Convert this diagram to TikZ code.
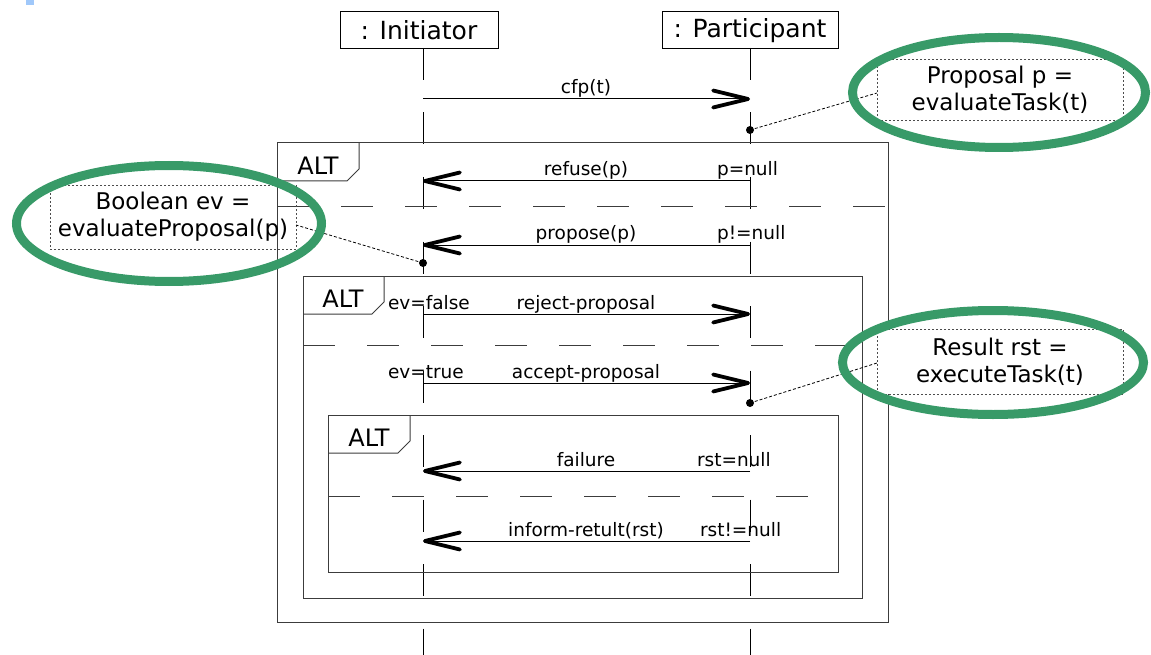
\documentclass[tikz,border=0pt]{standalone}
\usepackage{fontspec}
\setmainfont{DejaVu Sans}
\usetikzlibrary{arrows.meta,shapes.geometric}
\definecolor{hlgreen}{RGB}{56,154,104}
\definecolor{framecol}{RGB}{60,60,60}
\definecolor{speck}{RGB}{160,200,250}
\begin{document}
\begin{tikzpicture}[x=1pt,y=-1pt,
  every node/.style={inner sep=0pt,outer sep=0pt},
  head/.style={draw,line width=1pt,minimum height=37pt,font=\fontsize{25}{30}\selectfont},
  lifeline/.style={line width=1pt,dash pattern=on 32pt off 32.5pt},
  msg/.style={line width=1pt,-{Straight Barb[length=35pt,width=17pt,line width=3.8pt,round]}},
  lbl/.style={font=\fontsize{18.5}{21}\selectfont,anchor=base},
  cond/.style={font=\fontsize{18.5}{21}\selectfont,anchor=base west},
  frm/.style={draw=framecol,line width=1pt},
  sep/.style={draw=framecol,line width=1pt,dash pattern=on 32pt off 32pt},
  alttxt/.style={font=\fontsize{24}{28}\selectfont,anchor=base},
  note/.style={draw=black!70,dash pattern=on 2pt off 2pt,line width=0.8pt,
    font=\fontsize{23}{27}\selectfont,align=center,minimum width=246pt},
  hl/.style={draw=hlgreen,line width=9pt},
  dotline/.style={line width=0.8pt,dash pattern=on 3pt off 2pt},
  dot/.style={circle,fill,minimum size=8pt}
]
\useasboundingbox (0,0) rectangle (1151,655);
\fill[speck] (26,0) rectangle (34,5);

% headers
\node[head,minimum width=158pt] (ini) at (419,30.5) {: Initiator};
\node[head,minimum width=176pt] (par) at (750,30.5) {: Participant};

% lifelines
\coordinate (iniTop) at (423,48);
\coordinate (iniBot) at (423,655);
\coordinate (parTop) at (750,48);
\coordinate (parBot) at (750,655);
\draw[lifeline] (iniTop) -- (iniBot);
\draw[lifeline] (parTop) -- (parBot);

% frames
\draw[frm] (277,143) rectangle (888,622);
\draw[frm] (277,181) -- (347,181) -- (359,169) -- (359,143);
\node[alttxt] (alt1) at (318,175) {ALT};
\draw[sep] (277,207) -- (888,207);

\draw[frm] (303,276) rectangle (862,598);
\draw[frm] (303,314) -- (372,314) -- (384,302) -- (384,276);
\node[alttxt] (alt2) at (343,307) {ALT};
\draw[sep] (303,345) -- (862,345);

\draw[frm] (328,415) rectangle (838,572);
\draw[frm] (328,453) -- (398,453) -- (410,441) -- (410,415);
\node[alttxt] (alt3) at (369,446) {ALT};
\draw[sep] (328,496) -- (838,496);

% message anchor points
\foreach \n/\y in {cfp/99,ref/181,pro/245,rej/314,acc/383,fail/471,inf/541}{
  \coordinate (i-\n) at (423,\y);
  \coordinate (p-\n) at (750,\y);
}

% messages
\draw[msg] (i-cfp) -- (p-cfp);
\node[lbl] (l-cfp) at (586,94) {cfp(t)};

\draw[msg] (p-ref) -- (i-ref);
\node[lbl] (l-ref) at (586,176) {refuse(p)};
\node[cond] (c-ref) at (717,176) {p=null};

\draw[msg] (p-pro) -- (i-pro);
\node[lbl] (l-pro) at (586,240) {propose(p)};
\node[cond] (c-pro) at (717,240) {p!=null};

\draw[msg] (i-rej) -- (p-rej);
\node[lbl] (l-rej) at (586,309) {reject-proposal};
\node[cond] (c-rej) at (388,309) {ev=false};

\draw[msg] (i-acc) -- (p-acc);
\node[lbl] (l-acc) at (586,378) {accept-proposal};
\node[cond] (c-acc) at (388,378) {ev=true};

\draw[msg] (p-fail) -- (i-fail);
\node[lbl] (l-fail) at (586,466) {failure};
\node[cond] (c-fail) at (697,466) {rst=null};

\draw[msg] (p-inf) -- (i-inf);
\node[lbl] (l-inf) at (586,536) {inform-retult(rst)};
\node[cond] (c-inf) at (700,536) {rst!=null};

% notes
\node[dot] (d1) at (750,130) {};
\node[dot] (d2) at (423,263) {};
\node[dot] (d3) at (750,403) {};

\node[note,minimum height=61pt] (n1) at (1000,89.5) {Proposal p =\\evaluateTask(t)};
\node[note,minimum height=64pt] (n2) at (173,217) {Boolean ev =\\evaluateProposal(p)};
\node[note,fill=white,minimum height=65pt] (n3) at (1000,361.5) {Result rst =\\executeTask(t)};

\coordinate (n1a) at (877,93);
\coordinate (n2a) at (296,225);
\coordinate (n3a) at (877,363);
\draw[dotline] (d1.center) -- (n1a);
\draw[dotline] (d2.center) -- (n2a);
\draw[dotline] (d3.center) -- (n3a);

% highlight ellipses
\draw[hl] (999,92.5) ellipse [x radius=146.5pt, y radius=55pt];
\draw[hl] (169,223.5) ellipse [x radius=152.5pt, y radius=58pt];
\draw[hl] (993,362.5) ellipse [x radius=150.5pt, y radius=52pt];
\end{tikzpicture}
\end{document}
